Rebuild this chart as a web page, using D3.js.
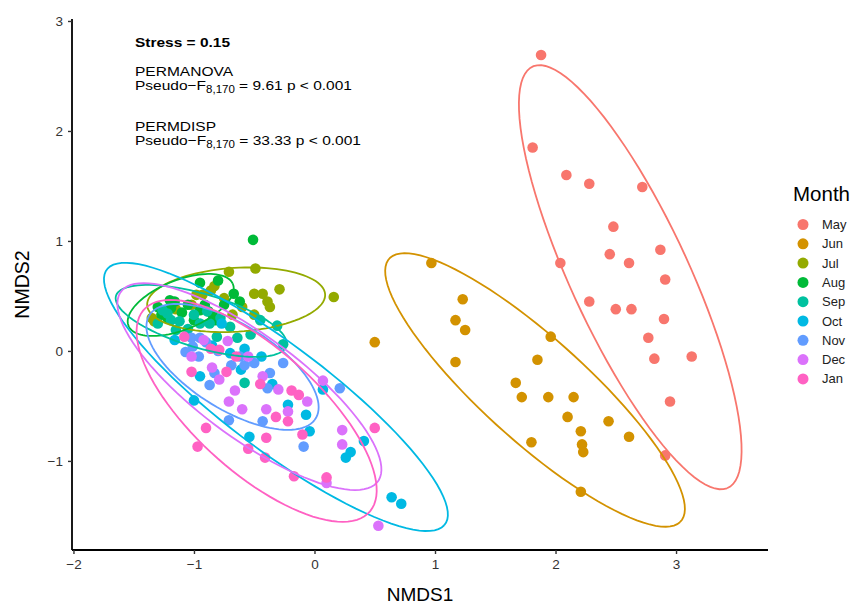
<!DOCTYPE html>
<html>
<head>
<meta charset="utf-8">
<script src="https://cdn.jsdelivr.net/npm/d3@7"></script>
<style>
  body { margin: 0; background: #fff; }
  svg { display: block; font-family: "Liberation Sans", Arial, sans-serif; }
</style>
</head>
<body>
<div id="chart"></div>
<script>
// Months (legend order) and ggplot hue palette
const months = ["May", "Jun", "Jul", "Aug", "Sep", "Oct", "Nov", "Dec", "Jan"];
const palette = ["#F8766D", "#D39200", "#93AA00", "#00BA38", "#00C19F",
                 "#00B9E3", "#619CFF", "#DB72FB", "#FF61C3"];

// NMDS scores per month, [NMDS1, NMDS2]
const mayPts = [[1.88,2.69],[1.81,1.85],[2.09,1.60],[2.28,1.52],[2.72,1.49],[2.48,1.13],
  [2.45,0.88],[2.61,0.80],[2.87,0.92],[2.04,0.80],[2.91,0.65],[2.28,0.45],[2.50,0.38],
  [2.63,0.38],[2.90,0.29],[2.77,0.12],[2.82,-0.07],[3.13,-0.05],[2.95,-0.46],[2.91,-0.95]];
const junPts = [[0.97,0.80],[1.23,0.47],[1.17,0.28],[1.25,0.19],[0.50,0.08],[1.17,-0.10],
  [1.96,0.13],[1.85,-0.08],[1.67,-0.29],[1.72,-0.42],[1.94,-0.42],[2.15,-0.42],[2.10,-0.60],
  [2.44,-0.64],[2.21,-0.73],[2.61,-0.78],[1.80,-0.83],[2.22,-0.85],[2.23,-0.92],[2.21,-1.28]];
const julPts = [[-0.71,0.72],[-0.49,0.75],[-0.29,0.56],[0.16,0.49],[-0.50,0.52],[-0.43,0.52],
  [-0.39,0.45],[-0.37,0.40],[-0.83,0.59],[-0.86,0.55],[-0.98,0.51],[-0.93,0.51],[-0.68,0.33],
  [-0.50,0.33],[-1.33,0.27],[-1.35,0.30],[-1.02,0.42],[-0.75,0.48],[-1.15,0.38],[-0.60,0.40]];
const augPts = [[-0.51,1.01],[-0.95,0.62],[-0.80,0.64],[-0.67,0.52],[-1.16,0.45],[-1.20,0.46],
  [-1.19,0.39],[-1.27,0.33],[-0.91,0.42],[-0.95,0.37],[-0.88,0.36],[-0.84,0.31],[-0.82,0.28],
  [-1.10,0.35],[-1.05,0.42],[-1.00,0.28],[-0.75,0.42],[-1.22,0.30],[-0.62,0.45],[-1.30,0.40]];
const sepPts = [[-0.31,0.23],[-0.53,0.15],[-0.81,0.13],[-0.26,0.06],[-0.58,-0.29],[-1.19,0.28],
  [-1.12,0.27],[-1.00,0.33],[-0.87,0.25],[-1.22,0.34],[-0.89,0.36],[-1.26,0.37],[-1.15,0.19],
  [-0.95,0.25],[-1.05,0.20],[-0.70,0.22],[-0.45,0.28],[-1.30,0.25],[-0.78,0.30],[-0.64,0.12]];
const octPts = [[-0.77,0.25],[-0.58,0.02],[-0.61,-0.17],[-0.95,-0.23],[-1.00,-0.45],[-0.22,-0.49],
  [-0.07,-0.58],[0.07,-0.35],[-0.04,-0.73],[-0.54,-0.78],[-1.16,0.10],[-0.44,-0.05],[0.30,-0.92],
  [0.41,-0.82],[0.26,-0.97],[0.64,-1.33],[0.72,-1.39],[-0.35,-0.30],[-0.85,0.05],[-0.70,-0.02]];
const novPts = [[-1.02,0.12],[-0.95,0.12],[-1.01,0.04],[-1.07,-0.01],[-0.69,-0.13],[-0.58,-0.13],
  [-0.50,-0.11],[-0.83,-0.20],[-0.87,-0.31],[-0.37,-0.20],[-0.39,-0.34],[-0.26,-0.11],[0.21,-0.34],
  [-0.43,-0.64],[-0.71,-0.63],[-0.09,-0.87],[-0.90,0.08],[-0.80,0.00],[-0.62,-0.05],[-0.96,-0.05]];
const decPts = [[-0.72,0.09],[-1.02,-0.05],[-0.43,-0.23],[-0.66,-0.36],[-0.79,-0.26],[-0.71,-0.46],
  [-0.60,-0.53],[-0.40,-0.53],[-0.06,-0.46],[0.23,-0.72],[0.23,-0.85],[0.07,-0.27],[0.53,-1.59],
  [0.10,-1.20],[-0.22,-0.55],[-0.55,-0.05],[-0.92,0.10],[-0.30,-0.35],[-0.85,-0.15]];
const janPts = [[-1.08,0.13],[-0.86,0.02],[-0.79,0.01],[-0.73,-0.19],[-1.02,-0.19],[-0.19,-0.36],
  [-0.13,-0.40],[-0.32,-0.60],[-0.22,-0.64],[-0.90,-0.70],[-0.97,-0.87],[-0.40,-0.79],[0.50,-0.70],
  [-0.10,-0.76],[-0.55,-0.89],[-0.41,-0.97],[-0.17,-1.14],[0.10,-1.15],[-0.65,-0.05],[-0.45,-0.30]];
const monthPts = [mayPts, junPts, julPts, augPts, sepPts, octPts, novPts, decPts, janPts];

// 95% ellipses per month: centre, semi-axes and rotation (degrees, data space)
const ellCx = [2.62, 1.83, -0.65, -1.11, -0.94, -0.32, -0.68, -0.54, -0.48];
const ellCy = [0.67, -0.355, 0.465, 0.418, 0.273, -0.418, -0.145, -0.324, -0.545];
const ellA = [2.08, 1.70, 0.74, 0.473, 0.743, 1.82, 0.835, 1.372, 1.313];
const ellB = [0.496, 0.45, 0.29, 0.222, 0.243, 0.459, 0.376, 0.45, 0.535];
const ellAngle = [-67.3, -45, 4, 24.6, -18.2, -39.9, -35.4, -39.6, -45.5];

// Axis ticks
const xTicks = [-2, -1, 0, 1, 2, 3];
const yTicks = [-1, 0, 1, 2, 3];

const width = 852, height = 607;
const panel = {left: 72, right: 768, top: 19, bottom: 550};

const svg = d3.select("#chart").append("svg")
    .attr("width", width)
    .attr("height", height);

const x = d3.scaleLinear().domain([-2.012, 3.763]).range([panel.left, panel.right]);
const y = d3.scaleLinear().domain([-1.81, 3.018]).range([panel.bottom, panel.top]);

const fmt = d => (d < 0 ? "\u2212" + Math.abs(d) : String(d));

// Points
const points = [];
monthPts.forEach((pts, i) => pts.forEach(p => points.push({x: p[0], y: p[1], m: i})));

svg.append("g").selectAll("circle")
    .data(points)
    .enter().append("circle")
    .attr("cx", d => x(d.x))
    .attr("cy", d => y(d.y))
    .attr("r", 5.3)
    .attr("fill", d => palette[d.m]);

// Ellipses, traced in data space then mapped through the scales
const ellipsePath = function(i) {
    const th = ellAngle[i] * Math.PI / 180;
    const pts = d3.range(0, 101).map(k => {
        const t = k / 100 * 2 * Math.PI;
        const u = ellA[i] * Math.cos(t), v = ellB[i] * Math.sin(t);
        return [ellCx[i] + u * Math.cos(th) - v * Math.sin(th),
                ellCy[i] + u * Math.sin(th) + v * Math.cos(th)];
    });
    return d3.line().x(p => x(p[0])).y(p => y(p[1]))(pts);
};

svg.append("g").selectAll("path")
    .data(months)
    .enter().append("path")
    .attr("d", (d, i) => ellipsePath(i))
    .attr("fill", "none")
    .attr("stroke", (d, i) => palette[i])
    .attr("stroke-width", 1.8);

// Axes
const xAxis = svg.append("g")
    .attr("transform", "translate(0," + panel.bottom + ")")
    .call(d3.axisBottom(x).tickValues(xTicks).tickFormat(fmt).tickSize(4).tickPadding(5));
const yAxis = svg.append("g")
    .attr("transform", "translate(" + panel.left + ",0)")
    .call(d3.axisLeft(y).tickValues(yTicks).tickFormat(fmt).tickSize(4).tickPadding(5));

[xAxis, yAxis].forEach(ax => {
    ax.select(".domain").attr("stroke", "#000").attr("stroke-width", 1.8);
    ax.selectAll(".tick line").attr("stroke", "#333").attr("stroke-width", 1.4);
    ax.selectAll(".tick text").attr("fill", "#333").style("font-size", "13.5px");
});
// d3 draws the domain with outer ticks; remove them to match ggplot
xAxis.select(".domain").attr("d", "M" + panel.left + ",0H" + panel.right);
yAxis.select(".domain").attr("d", "M0," + panel.bottom + "V" + panel.top);

// Axis titles
svg.append("text")
    .attr("x", (panel.left + panel.right) / 2)
    .attr("y", 601)
    .attr("text-anchor", "middle")
    .style("font-size", "19px")
    .text("NMDS1");
svg.append("text")
    .attr("transform", "translate(29," + (panel.top + panel.bottom) / 2 + ") rotate(-90)")
    .attr("text-anchor", "middle")
    .style("font-size", "19.5px")
    .text("NMDS2");

// Statistics annotation (text lengths matched to the reference)
const ann = svg.append("g").style("font-size", "13.5px").attr("fill", "#000");
ann.append("text").attr("x", 135).attr("y", 47)
    .attr("textLength", 95).attr("lengthAdjust", "spacingAndGlyphs")
    .style("font-weight", "bold").text("Stress = 0.15");

const testLines = [
    {name: "PERMANOVA", nameLen: 98, stat: "9.61", statLen: 217, y: 76},
    {name: "PERMDISP", nameLen: 81, stat: "33.33", statLen: 226, y: 131}
];
testLines.forEach(t => {
    ann.append("text").attr("x", 135).attr("y", t.y)
        .attr("textLength", t.nameLen).attr("lengthAdjust", "spacingAndGlyphs")
        .text(t.name);
    const line = ann.append("text").attr("x", 135).attr("y", t.y + 13.5)
        .attr("textLength", t.statLen).attr("lengthAdjust", "spacingAndGlyphs");
    line.append("tspan").text("Pseudo\u2212F");
    line.append("tspan").attr("dy", 3).style("font-size", "10px").text("8,170");
    line.append("tspan").attr("dy", -3).text(" = " + t.stat + " p < 0.001");
});

// Legend
const legend = svg.append("g").attr("transform", "translate(793,0)");
legend.append("text").attr("x", 0).attr("y", 201)
    .style("font-size", "20.5px").text("Month");
const items = legend.selectAll("g.item")
    .data(months)
    .enter().append("g")
    .attr("class", "item")
    .attr("transform", (d, i) => "translate(0," + (224.5 + i * 19.3) + ")");
items.append("circle").attr("cx", 10).attr("cy", 0).attr("r", 5.5)
    .attr("fill", (d, i) => palette[i]);
items.append("text").attr("x", 29).attr("y", 4.5)
    .style("font-size", "13px").attr("fill", "#222").text(d => d);
</script>
</body>
</html>
